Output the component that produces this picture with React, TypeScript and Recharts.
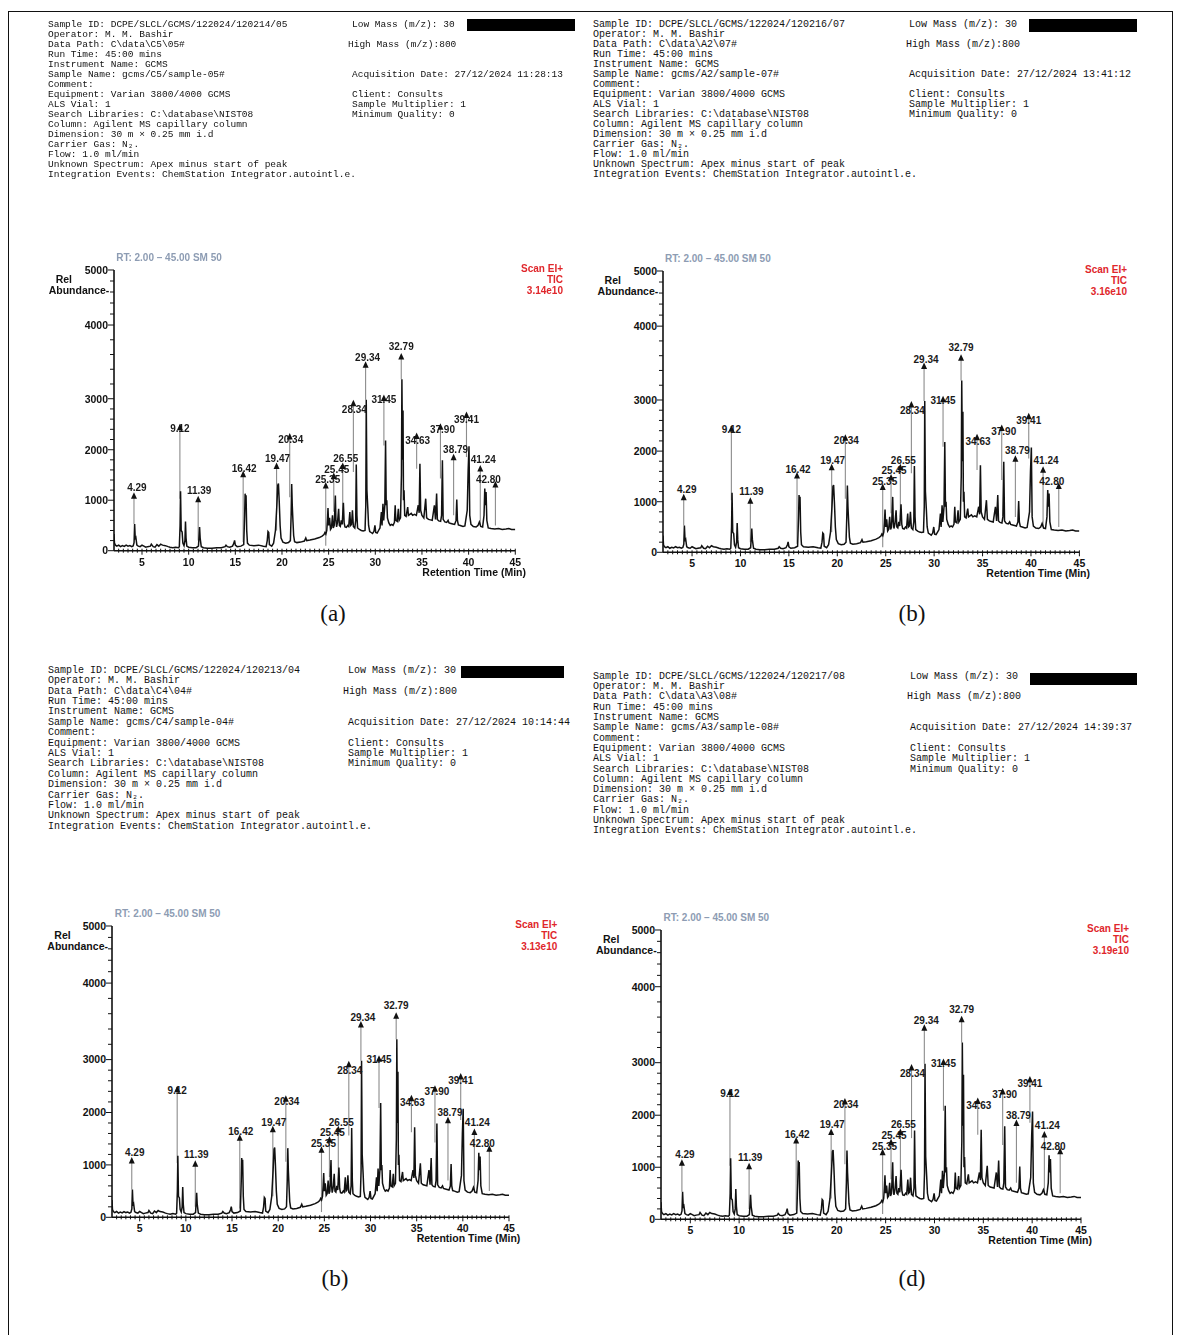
import React from 'react';
import { ComposedChart, Line, XAxis, YAxis, ReferenceLine, ReferenceDot } from 'recharts';

// ---------- DATA ----------
// Total ion chromatogram: [retention time (min), relative abundance]
const ticTrace: [number, number][] = [
  [2.0, 330], [2.05, 150], [2.15, 110], [2.3, 90], [2.5, 110], [2.7, 80], [2.9, 100], [3.1, 85], [3.3, 110],
  [3.5, 90], [3.7, 100], [3.9, 80], [4.05, 95], [4.15, 160], [4.21, 530], [4.28, 220], [4.35, 250], [4.45, 110],
  [4.6, 90], [4.8, 80], [5.0, 110], [5.2, 90], [5.4, 70], [5.6, 80], [5.9, 90], [6.0, 130], [6.2, 80], [6.4, 70],
  [6.6, 120], [6.8, 90], [7.0, 130], [7.2, 110], [7.5, 100], [7.8, 80], [8.0, 70], [8.3, 60], [8.6, 70], [8.9, 60],
  [9.0, 80], [9.08, 500], [9.13, 1175], [9.2, 400], [9.3, 370], [9.38, 150], [9.5, 100], [9.6, 200], [9.66, 580],
  [9.72, 250], [9.8, 90], [10.0, 70], [10.4, 60], [10.8, 60], [11.05, 90], [11.12, 300], [11.17, 470], [11.23, 250],
  [11.35, 80], [11.6, 60], [12.0, 50], [12.5, 50], [13.0, 60], [13.5, 60], [13.9, 80], [14.0, 110], [14.15, 80],
  [14.4, 70], [14.7, 90], [14.85, 150], [14.92, 205], [15.0, 110], [15.2, 80], [15.6, 90], [15.9, 120], [16.0, 700],
  [16.05, 1130], [16.1, 900], [16.15, 1100], [16.22, 400], [16.3, 150], [16.5, 110], [17.0, 100], [17.5, 110],
  [18.0, 90], [18.3, 80], [18.42, 200], [18.5, 380], [18.58, 360], [18.65, 120], [18.9, 90], [19.1, 150], [19.3, 400],
  [19.45, 900], [19.55, 1300], [19.62, 1330], [19.7, 1000], [19.8, 500], [19.9, 250], [20.1, 170], [20.4, 150],
  [20.7, 160], [20.9, 200], [20.98, 700], [21.04, 1320], [21.1, 900], [21.18, 570], [21.25, 300], [21.35, 180],
  [21.6, 160], [22.0, 170], [22.4, 190], [22.55, 250], [22.65, 200], [23.0, 210], [23.5, 230], [24.0, 260],
  [24.3, 290], [24.5, 320], [24.6, 360], [24.7, 330], [24.8, 400], [24.87, 600], [24.93, 845], [25.0, 500],
  [25.1, 650], [25.2, 420], [25.3, 450], [25.41, 700], [25.5, 450], [25.6, 500], [25.66, 800], [25.72, 1095],
  [25.78, 600], [25.85, 470], [25.95, 560], [26.07, 830], [26.15, 500], [26.25, 480], [26.35, 600], [26.45, 520],
  [26.58, 950], [26.66, 550], [26.75, 470], [26.9, 460], [27.05, 500], [27.15, 480], [27.27, 765], [27.35, 500],
  [27.45, 520], [27.55, 800], [27.65, 480], [27.8, 450], [27.9, 600], [27.96, 1705], [28.03, 700], [28.1, 450],
  [28.3, 420], [28.5, 400], [28.7, 390], [28.9, 400], [28.98, 900], [29.03, 2980], [29.1, 1200], [29.2, 830],
  [29.28, 500], [29.4, 380], [29.55, 360], [29.7, 340], [29.85, 380], [29.96, 500], [30.05, 360], [30.2, 350],
  [30.35, 400], [30.5, 450], [30.65, 765], [30.72, 500], [30.82, 930], [30.9, 600], [31.02, 900], [31.1, 2180],
  [31.17, 900], [31.23, 1000], [31.3, 650], [31.45, 550], [31.6, 500], [31.75, 520], [31.9, 500], [32.05, 560],
  [32.13, 900], [32.2, 600], [32.35, 580], [32.47, 830], [32.55, 600], [32.7, 650], [32.8, 1500], [32.85, 3265],
  [32.92, 1800], [32.97, 2770], [33.02, 1000], [33.08, 1195], [33.15, 700], [33.3, 680], [33.47, 865], [33.55, 700],
  [33.7, 720], [33.85, 740], [34.0, 700], [34.2, 720], [34.4, 700], [34.6, 900], [34.7, 750], [34.78, 1720],
  [34.86, 800], [35.0, 700], [35.2, 650], [35.4, 1030], [35.5, 650], [35.7, 620], [35.9, 610], [36.1, 600],
  [36.33, 900], [36.45, 620], [36.57, 1130], [36.65, 620], [36.8, 590], [37.0, 580], [37.1, 700], [37.19, 1790],
  [37.27, 620], [37.45, 570], [37.65, 560], [37.8, 600], [37.9, 550], [38.1, 540], [38.3, 530], [38.5, 520],
  [38.65, 600], [38.73, 1015], [38.8, 600], [38.9, 510], [39.1, 500], [39.4, 480], [39.6, 490], [39.85, 800],
  [39.95, 1600], [40.04, 2070], [40.12, 700], [40.25, 520], [40.5, 480], [40.8, 470], [41.0, 500], [41.15, 570],
  [41.3, 480], [41.5, 470], [41.65, 700], [41.73, 1230], [41.8, 900], [41.87, 1160], [41.95, 600], [42.1, 450],
  [42.4, 440], [42.8, 430], [43.2, 440], [43.6, 420], [44.0, 430], [44.3, 440], [44.6, 420], [45.0, 420],
];

// Peak annotations
const peakLabels = ['4.29', '9.12', '11.39', '16.42', '19.47', '20.34', '25.35', '25.45', '26.55', '28.34',
  '29.34', '31.45', '32.79', '34.63', '37.90', '38.79', '39.41', '41.24', '42.80'];
const peakMarkerRt = [4.14, 9.06, 11.02, 15.84, 19.42, 20.83, 24.69, 25.55, 26.51, 27.65,
  28.96, 30.92, 32.78, 34.43, 36.98, 38.39, 39.77, 41.25, 42.87];
const peakMarkerLevel = [1086, 2440, 1020, 1516, 1680, 2260, 1290, 1480, 1680, 2910,
  3460, 3010, 3572, 2270, 2450, 1850, 2680, 1630, 1310];
const peakLineEnd = [530, 1030, 200, 170, 400, 1060, 100, 770, 700, 1560,
  2980, 2085, 3265, 1625, 1430, 700, 1855, 500, 500];

const scanValues = ['3.14e10', '3.16e10', '3.13e10', '3.19e10'];
const captions = ['(a)', '(b)', '(b)', '(d)'];

const sampleIds = ['DCPE/SLCL/GCMS/122024/120214/05', 'DCPE/SLCL/GCMS/122024/120216/07',
  'DCPE/SLCL/GCMS/122024/120213/04', 'DCPE/SLCL/GCMS/122024/120217/08'];
const dataPaths = ['C\\data\\C5\\05#', 'C\\data\\A2\\07#', 'C\\data\\C4\\04#', 'C\\data\\A3\\08#'];
const sampleNames = ['gcms/C5/sample-05#', 'gcms/A2/sample-07#', 'gcms/C4/sample-04#', 'gcms/A3/sample-08#'];
const acqDates = ['27/12/2024 11:28:13', '27/12/2024 13:41:12', '27/12/2024 10:14:44', '27/12/2024 14:39:37'];

// ---------- axis warp (the printed ordinate is not uniform) ----------
const warpV = [0, 1000, 2000, 3000, 4000, 5000];
const warpW = [0, 1000, 2000, 3010, 4470, 5560];
function warp(v: number): number {
  for (let i = 1; i < warpV.length; i++) {
    if (v <= warpV[i]) {
      const f = (v - warpV[i - 1]) / (warpV[i] - warpV[i - 1]);
      return warpW[i - 1] + f * (warpW[i] - warpW[i - 1]);
    }
  }
  return warpW[warpW.length - 1];
}
function unwarp(w: number): number {
  for (let i = 1; i < warpW.length; i++) {
    if (w <= warpW[i] + 1e-9) {
      const f = (w - warpW[i - 1]) / (warpW[i] - warpW[i - 1]);
      return warpV[i - 1] + f * (warpV[i] - warpV[i - 1]);
    }
  }
  return 5000;
}

const traceData = ticTrace.map(([t, v]) => ({ t, w: warp(v) }));
const yTicks: number[] = [];
for (let v = 0; v <= 5000; v += 200) yTicks.push(warp(v));
const xTicks: number[] = [];
for (let t = 2.5; t <= 45.001; t += 0.5) xTicks.push(Math.round(t * 10) / 10);

// label offsets relative to the marker (layout only)
const labelOffset: Record<string, [number, number]> = {
  '4.29': [3, -8], '9.12': [0, 1], '11.39': [1, -9], '16.42': [1, -6], '19.47': [1, -7], '20.34': [1, 3],
  '25.35': [2, -6], '25.45': [3, -7], '26.55': [3, -7], '28.34': [1, 6], '29.34': [2, -7], '31.45': [0, 1],
  '32.79': [0, -10], '34.63': [1, 4], '37.90': [2, 3], '38.79': [2, -8], '39.41': [0, 4], '41.24': [3, -9],
  '42.80': [-7, -5],
};

const SANS = 'Arial, "Liberation Sans", Helvetica, sans-serif';
const MONO = '"Liberation Mono", "DejaVu Sans Mono", monospace';

type Box = { left: number; top: number; width: number; height: number };
const plotBoxes: Box[] = [
  { left: 113.7, top: 270, width: 401.3, height: 280.7 },
  { left: 662.6, top: 270.7, width: 416.4, height: 281.3 },
  { left: 112.3, top: 926, width: 397, height: 291.3 },
  { left: 661, top: 930, width: 420, height: 289.3 },
];

function XTick(props: any) {
  const { x, y, payload } = props;
  const v = payload.value;
  const major = Math.abs(v / 5 - Math.round(v / 5)) < 1e-6;
  return (
    <g>
      <line x1={x} x2={x} y1={y - 2} y2={y + (major ? 4 : 2)} stroke="#111" strokeWidth={1} />
      {major && (
        <text x={x} y={y + 15} textAnchor="middle" fontFamily={SANS} fontWeight="bold" fontSize={10.5} fill="#111">
          {Math.round(v)}
        </text>
      )}
    </g>
  );
}

function YTick(props: any) {
  const { x, y, payload } = props;
  const v = Math.round(unwarp(payload.value));
  const major = v % 1000 === 0;
  return (
    <g>
      <line x1={x - (major ? 6 : 4)} x2={x} y1={y} y2={y} stroke="#111" strokeWidth={1} />
      {major && (
        <text x={x - 6} y={y + 3.8} textAnchor="end" fontFamily={SANS} fontWeight="bold" fontSize={10.5} fill="#111">
          {v}
        </text>
      )}
    </g>
  );
}

function Marker(label: string) {
  return (props: any) => {
    const { cx, cy } = props;
    const [dx, dy] = labelOffset[label] || [0, -7];
    return (
      <g>
        <text x={cx + dx} y={cy + dy + 3.6} textAnchor="middle" fontFamily={SANS} fontWeight="bold" fontSize={10} fill="#1a1a1a">
          {label}
        </text>
        <path d={`M${cx - 3},${cy + 3} L${cx + 3},${cy + 3} L${cx},${cy - 3.5} Z`} fill="#111" />
      </g>
    );
  };
}

const YW = 60; // y-axis band width
const XH = 40; // x-axis band height
const M = { top: 30, right: 30, bottom: 0, left: 0 };

function Chromatogram({ idx }: { idx: number }) {
  const box = plotBoxes[idx];
  const blur = idx === 0 ? 'blur(0.4px)' : undefined;
  return (
    <>
      <div style={{ position: 'absolute', left: box.left - YW, top: box.top - M.top, filter: blur }}>
        <ComposedChart
          width={box.width + YW + M.right}
          height={box.height + M.top + XH}
          data={traceData}
          margin={M}
        >
          <XAxis
            type="number" dataKey="t" domain={[2, 45]} ticks={xTicks} interval={0}
            height={XH} tickSize={0} tickMargin={0} tickLine={false}
            tick={<XTick />} axisLine={{ stroke: '#111', strokeWidth: 1.6 }} allowDataOverflow
          />
          <YAxis
            type="number" domain={[0, warp(5000)]} ticks={yTicks} interval={0}
            width={YW} tickSize={0} tickMargin={0} tickLine={false}
            tick={<YTick />} axisLine={{ stroke: '#111', strokeWidth: 1.6 }} allowDataOverflow
          />
          {peakLabels.map((lab, i) => (
            <ReferenceLine
              key={'l' + lab}
              segment={[{ x: peakMarkerRt[i], y: warp(peakMarkerLevel[i]) }, { x: peakMarkerRt[i], y: warp(peakLineEnd[i]) }]}
              stroke="#8c8c8c" strokeWidth={1.1}
            />
          ))}
          <Line dataKey="w" type="linear" stroke="#111" strokeWidth={1.5} dot={false} isAnimationActive={false} />
          {peakLabels.map((lab, i) => (
            <ReferenceDot
              key={'d' + lab}
              x={peakMarkerRt[i]}
              y={warp(peakMarkerLevel[i])}
              r={3}
              shape={Marker(lab)}
            />
          ))}
        </ComposedChart>
      </div>
      <div style={{ position: 'absolute', left: box.left + 2.5, top: box.top - 18, fontFamily: SANS, fontWeight: 'bold', fontSize: 10, color: '#8d9cb3', whiteSpace: 'nowrap', filter: blur }}>
        RT: 2.00 – 45.00 SM 50
      </div>
      <div style={{ position: 'absolute', left: box.left - 62, top: box.top + 4, fontFamily: SANS, fontWeight: 'bold', fontSize: 10.5, lineHeight: '11px', color: '#111', whiteSpace: 'nowrap', filter: blur }}>
        <div style={{ paddingLeft: 4 }}>Rel</div>
        <div style={{ marginLeft: -3 }}>Abundance-</div>
      </div>
      <div style={{ position: 'absolute', left: box.left + box.width - 152, width: 200, top: box.top - 7, textAlign: 'right', fontFamily: SANS, fontWeight: 'bold', fontSize: 10, lineHeight: '11px', color: '#e0262b', filter: blur }}>
        <div>Scan EI+</div>
        <div>TIC</div>
        <div>{scanValues[idx]}</div>
      </div>
      <div style={{ position: 'absolute', left: box.left + box.width - 189, width: 200, top: box.top + box.height + 15, textAlign: 'right', fontFamily: SANS, fontWeight: 'bold', fontSize: 10.5, color: '#111', whiteSpace: 'nowrap', filter: blur }}>
        Retention Time (Min)
      </div>
    </>
  );
}

type HeaderLayout = { left: number; top: number; lh: number; fs: number; right: number; highX: number; boxL: number; boxR: number; boxT: number; boxB: number };
const headerLayouts: HeaderLayout[] = [
  { left: 48, top: 25, lh: 10, fs: 9.5, right: 352, highX: 348, boxL: 467, boxR: 575, boxT: 19, boxB: 31 },
  { left: 593, top: 25, lh: 10, fs: 10, right: 909, highX: 906, boxL: 1029, boxR: 1137, boxT: 19, boxB: 32 },
  { left: 48, top: 671, lh: 10.4, fs: 10, right: 348, highX: 343, boxL: 461, boxR: 564, boxT: 666, boxB: 678 },
  { left: 593, top: 677, lh: 10.3, fs: 10, right: 910, highX: 907, boxL: 1030, boxR: 1137, boxT: 673, boxB: 685 },
];

function Header({ idx }: { idx: number }) {
  const L = headerLayouts[idx];
  const leftLines = [
    `Sample ID: ${sampleIds[idx]}`,
    'Operator: M. M. Bashir',
    `Data Path: ${dataPaths[idx]}`,
    'Run Time: 45:00 mins',
    'Instrument Name: GCMS',
    `Sample Name: ${sampleNames[idx]}`,
    'Comment:',
    'Equipment: Varian 3800/4000 GCMS',
    'ALS Vial: 1',
    'Search Libraries: C:\\database\\NIST08',
    'Column: Agilent MS capillary column',
    'Dimension: 30 m × 0.25 mm i.d',
    'Carrier Gas: N₂.',
    'Flow: 1.0 ml/min',
    'Unknown Spectrum: Apex minus start of peak',
    'Integration Events: ChemStation Integrator.autointl.e.',
  ];
  const rightLines: [number, string, number][] = [
    [0, 'Low Mass (m/z): 30', L.right],
    [2, 'High Mass (m/z):800', L.highX],
    [5, `Acquisition Date: ${acqDates[idx]}`, L.right],
    [7, 'Client: Consults', L.right],
    [8, 'Sample Multiplier: 1', L.right],
    [9, 'Minimum Quality: 0', L.right],
  ];
  const blur = idx === 0 ? 'blur(0.6px)' : undefined;
  const common: React.CSSProperties = {
    position: 'absolute', fontFamily: MONO, fontSize: L.fs, lineHeight: `${L.lh}px`, color: '#111',
    whiteSpace: 'pre', filter: blur,
  };
  return (
    <>
      {leftLines.map((s, i) => (
        <div key={'L' + i} style={{ ...common, left: L.left, top: L.top + i * L.lh - L.lh / 2 }}>{s}</div>
      ))}
      {rightLines.map(([ln, s, x]) => (
        <div key={'R' + ln} style={{ ...common, left: x, top: L.top + ln * L.lh - L.lh / 2 }}>{s}</div>
      ))}
      <div style={{ position: 'absolute', left: L.boxL, top: L.boxT, width: L.boxR - L.boxL, height: L.boxB - L.boxT, background: '#000', filter: blur }} />
    </>
  );
}

const captionPos = [[333, 614], [912, 614], [335, 1279], [912, 1279]];

export default function App() {
  return (
    <div style={{ position: 'absolute', left: 0, top: 0, width: 1181, height: 1335, background: '#fff', overflow: 'hidden' }}>
      <div style={{ position: 'absolute', left: 8, top: 11, width: 1165, height: 1340, border: '1.5px solid #111', boxSizing: 'border-box' }} />
      {[0, 1, 2, 3].map((i) => (
        <React.Fragment key={i}>
          <Header idx={i} />
          <Chromatogram idx={i} />
          <div style={{ position: 'absolute', left: captionPos[i][0], top: captionPos[i][1], transform: 'translate(-50%, -50%)', fontFamily: '"Liberation Serif", "Times New Roman", serif', fontSize: 23, color: '#111' }}>
            {captions[i]}
          </div>
        </React.Fragment>
      ))}
    </div>
  );
}
